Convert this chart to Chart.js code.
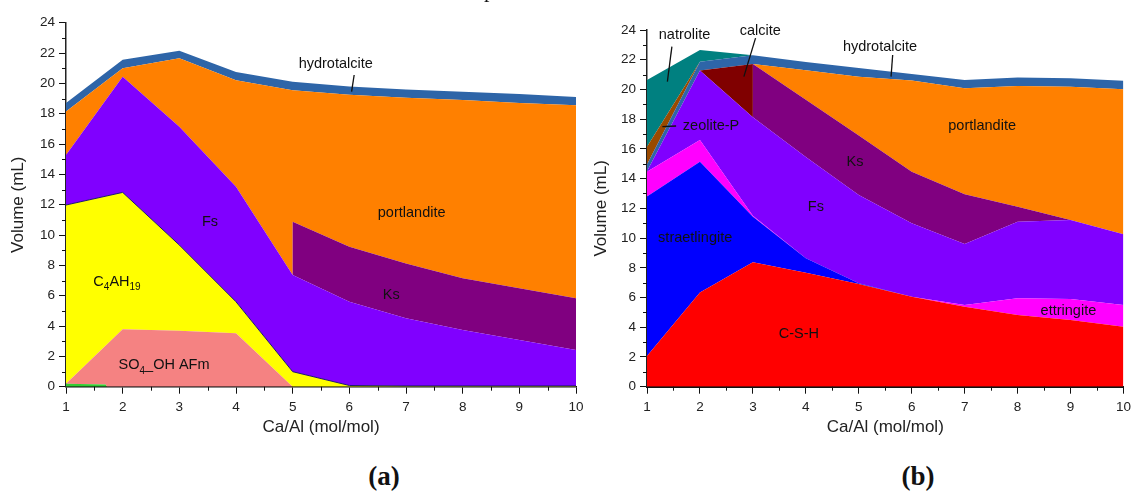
<!DOCTYPE html>
<html>
<head>
<meta charset="utf-8">
<script src="https://cdn.jsdelivr.net/npm/chart.js@4.4.1/dist/chart.umd.min.js"></script>
<style>
  body { margin: 0; background: #fff; width: 1136px; height: 491px; position: relative; overflow: hidden; }
  canvas { position: absolute; top: 0; }
  #chartA { left: 0; }
  #chartB { left: 580px; }
  .cap { position: absolute; font-family: "Liberation Serif", serif; font-weight: bold; font-size: 27px; transform: translate(-50%, -50%); color: #111; }
  #topGlyph { position: absolute; left: 484px; top: -21px; font-family: "Liberation Serif", serif; font-size: 22px; line-height: 22px; color: #111; }
</style>
</head>
<body>
<canvas id="chartA" width="590" height="450"></canvas>
<canvas id="chartB" width="556" height="450"></canvas>
<div class="cap" style="left:384px; top:476px">(a)</div>
<div class="cap" style="left:918px; top:476px">(b)</div>
<div id="topGlyph">p</div>

<script>
// Ca/Al ratio on the x axis
const caAl = [1, 2, 3, 4, 5, 6, 7, 8, 9, 10];
const yTicks = [0, 2, 4, 6, 8, 10, 12, 14, 16, 18, 20, 22, 24];

// ---- panel (a): upper edge of each phase (mL), bottom to top ----
const aGreenX = [1, 1.7, 1.72, 10];
const aGreen = [0.2, 0.15, 0, 0];
const aAfm = [0.2, 3.78, 3.69, 3.52, 0, 0, 0, 0, 0, 0];
const aC4ah19 = [11.98, 12.81, 9.34, 5.6, 0.99, 0.08, 0.05, 0.05, 0.05, 0.05];
const aFs = [15.27, 20.44, 17.14, 13.18, 7.36, 5.6, 4.51, 3.74, 3.08, 2.42];
const aKsX = [1, 2, 3, 4, 5, 5, 6, 7, 8, 9, 10];
const aKs = [15.27, 20.44, 17.14, 13.18, 7.36, 10.88, 9.23, 8.13, 7.15, 6.49, 5.83];
const aPortlandite = [18.15, 21.0, 21.65, 20.2, 19.55, 19.25, 19.05, 18.9, 18.7, 18.55];
const aHydrotalcite = [18.7, 21.55, 22.15, 20.75, 20.1, 19.8, 19.6, 19.45, 19.3, 19.1];

// ---- panel (b): upper edge of each phase (mL), bottom to top ----
const bCsh = [2.07, 6.33, 8.37, 7.67, 6.91, 6.06, 5.38, 4.83, 4.49, 4.04];
const bStraetlingite = [12.79, 15.14, 11.44, 8.64, 6.96, 6.06, 5.38, 4.83, 4.49, 4.04];
const bEttringite = [14.47, 16.6, 11.5, 8.64, 6.96, 6.06, 5.5, 5.95, 5.9, 5.5];
const bFs = [14.5, 21.27, 18.13, 15.45, 12.9, 11.0, 9.6, 11.1, 11.22, 10.25];
const bKsX = [1, 2, 3, 3, 4, 5, 6, 7, 8, 9, 10];
const bKs = [14.5, 21.27, 18.13, 21.72, 19.3, 16.9, 14.47, 12.95, 12.11, 11.22, 10.25];
const bCalcite = [14.5, 21.27, 21.72, 19.3, 16.9, 14.47, 12.95, 12.11, 11.22, 10.25];
const bPortlandite = [14.5, 21.27, 21.72, 21.3, 20.85, 20.6, 20.08, 20.24, 20.19, 20.01];
const bHydrotalcite = [14.95, 21.87, 22.3, 21.85, 21.45, 21.04, 20.64, 20.8, 20.75, 20.59];
const bZeoliteP = [16.15, 21.87, 22.3, 21.85, 21.45, 21.04, 20.64, 20.8, 20.75, 20.59];
const bNatrolite = [20.64, 22.66, 22.3, 21.85, 21.45, 21.04, 20.64, 20.8, 20.75, 20.59];

const FONT = '"Liberation Sans", Arial, sans-serif';

function layer(label, xs, ys, color, fill, border) {
    return {
        label: label,
        data: xs.map((x, i) => ({ x: x, y: ys[i] })),
        backgroundColor: color,
        borderColor: border || 'rgba(0,0,0,0)',
        borderWidth: border ? 1 : 0,
        fill: fill,
        pointRadius: 0,
        tension: 0
    };
}

// short minor ticks between the labelled ones
const minorTicks = {
    id: 'minorTicks',
    afterDraw(chart) {
        const { ctx, chartArea: a, scales: { x, y } } = chart;
        ctx.save();
        ctx.strokeStyle = '#111';
        ctx.lineWidth = 1;
        ctx.beginPath();
        for (let v = 1; v < 24; v += 2) {
            const py = Math.round(y.getPixelForValue(v)) + 0.5;
            ctx.moveTo(a.left - 4, py);
            ctx.lineTo(a.left, py);
        }
        for (let v = 1.5; v < 10; v += 1) {
            const px = Math.round(x.getPixelForValue(v)) + 0.5;
            ctx.moveTo(px, a.bottom);
            ctx.lineTo(px, a.bottom + 4);
        }
        ctx.stroke();
        ctx.restore();
    }
};

// phase names and leader lines, placed in data units
const notes = {
    id: 'notes',
    afterDatasetsDraw(chart, args, opts) {
        const { ctx, scales: { x, y } } = chart;
        ctx.save();
        ctx.strokeStyle = '#111';
        ctx.fillStyle = '#111';
        ctx.lineWidth = 1.3;
        (opts.lines || []).forEach(l => {
            ctx.beginPath();
            ctx.moveTo(x.getPixelForValue(l[0]), y.getPixelForValue(l[1]));
            ctx.lineTo(x.getPixelForValue(l[2]), y.getPixelForValue(l[3]));
            ctx.stroke();
        });
        ctx.textBaseline = 'middle';
        (opts.labels || []).forEach(t => {
            const parts = t.parts || [[t.text, 0]];
            let w = 0;
            parts.forEach(p => {
                ctx.font = (p[1] ? '10px ' : '14.5px ') + FONT;
                w += ctx.measureText(p[0]).width;
            });
            let px = x.getPixelForValue(t.x) - w / 2;
            const py = y.getPixelForValue(t.y);
            parts.forEach(p => {
                ctx.font = (p[1] ? '10px ' : '14.5px ') + FONT;
                ctx.fillText(p[0], px, p[1] ? py + 6 : py);
                px += ctx.measureText(p[0]).width;
            });
        });
        ctx.restore();
    }
};

function makeOptions(yWidth, yTitlePad, pad, xBorder, noteOpts) {
    return {
        responsive: false,
        animation: false,
        layout: { padding: pad },
        plugins: { legend: { display: false }, tooltip: { enabled: false }, notes: noteOpts },
        scales: {
            x: {
                type: 'linear', min: 1, max: 10,
                afterFit(s) { s.height = 63.3; },
                ticks: { stepSize: 1, padding: 5, color: '#222', font: { family: FONT, size: 13.5 } },
                grid: { drawOnChartArea: false, tickLength: 7, tickColor: '#111' },
                border: { color: '#111', width: xBorder },
                title: { display: true, text: 'Ca/Al (mol/mol)', color: '#222', font: { family: FONT, size: 17 }, padding: { top: 0, bottom: 12 } }
            },
            y: {
                min: 0, max: 24,
                afterFit(s) { s.width = yWidth; },
                afterBuildTicks(s) { s.ticks = yTicks.map(v => ({ value: v })); },
                ticks: { padding: 4, color: '#222', font: { family: FONT, size: 13.5 } },
                grid: { drawOnChartArea: false, tickLength: 7, tickColor: '#111' },
                border: { color: '#222', width: 1.5 },
                title: { display: true, text: 'Volume (mL)', color: '#222', font: { family: FONT, size: 17 }, padding: { top: yTitlePad, bottom: 0 } }
            }
        }
    };
}

new Chart(document.getElementById('chartA'), {
    type: 'line',
    data: {
        datasets: [
            layer('green phase', aGreenX, aGreen, '#33cc33', 'origin'),
            layer('SO4_OH AFm', caAl, aAfm, '#f58282', '-1'),
            layer('C4AH19', caAl, aC4ah19, '#ffff00', '-1', '#1a1a70'),
            layer('Fs', caAl, aFs, '#8000ff', '-1'),
            layer('Ks', aKsX, aKs, '#800080', '-1'),
            layer('portlandite', caAl, aPortlandite, '#ff8000', '-1'),
            layer('hydrotalcite', caAl, aHydrotalcite, '#2e65a8', '-1')
        ]
    },
    options: makeOptions(66, 8, { top: 22.7, right: 14, bottom: 0, left: 0 }, 1.5, {
        lines: [[6.085, 20.55, 6.04, 19.45]],
        labels: [
            { x: 5.76, y: 21.27, text: 'hydrotalcite' },
            { x: 3.54, y: 10.88, text: 'Fs' },
            { x: 7.1, y: 11.43, text: 'portlandite' },
            { x: 6.74, y: 6.04, text: 'Ks' },
            { x: 1.9, y: 6.92, parts: [['C', 0], ['4', 1], ['AH', 0], ['19', 1]] },
            { x: 2.73, y: 1.43, parts: [['SO', 0], ['4', 1], ['_OH AFm', 0]] }
        ]
    }),
    plugins: [minorTicks, notes]
});

new Chart(document.getElementById('chartB'), {
    type: 'line',
    data: {
        datasets: [
            layer('C-S-H', caAl, bCsh, '#ff0000', 'origin'),
            layer('straetlingite', caAl, bStraetlingite, '#0000ff', '-1'),
            layer('ettringite', caAl, bEttringite, '#ff00ff', '-1'),
            layer('Fs', caAl, bFs, '#8000ff', '-1'),
            layer('Ks', bKsX, bKs, '#800080', '-1'),
            layer('calcite', caAl, bCalcite, '#800000', '-1'),
            layer('portlandite', caAl, bPortlandite, '#ff8000', '-1'),
            layer('hydrotalcite', caAl, bHydrotalcite, '#2e65a8', '-1'),
            layer('zeolite-P', caAl, bZeoliteP, '#9a4a00', '-1'),
            layer('natrolite', caAl, bNatrolite, '#008080', '-1')
        ]
    },
    options: makeOptions(67, 11, { top: 30, right: 7, bottom: 0, left: 0 }, 2, {
        lines: [
            [1.47, 22.88, 1.385, 20.53],
            [3.05, 23.45, 2.83, 20.86],
            [5.64, 22.32, 5.61, 20.86],
            [1.29, 17.5, 1.55, 17.54]
        ],
        labels: [
            { x: 1.71, y: 23.67, text: 'natrolite' },
            { x: 3.14, y: 23.9, text: 'calcite' },
            { x: 5.4, y: 22.86, text: 'hydrotalcite' },
            { x: 2.21, y: 17.56, text: 'zeolite-P' },
            { x: 4.93, y: 15.14, text: 'Ks' },
            { x: 4.19, y: 12.06, text: 'Fs' },
            { x: 7.33, y: 17.52, text: 'portlandite' },
            { x: 1.91, y: 9.99, text: 'straetlingite' },
            { x: 3.87, y: 3.55, text: 'C-S-H' },
            { x: 8.96, y: 5.11, text: 'ettringite' }
        ]
    }),
    plugins: [minorTicks, notes]
});
</script>
</body>
</html>
